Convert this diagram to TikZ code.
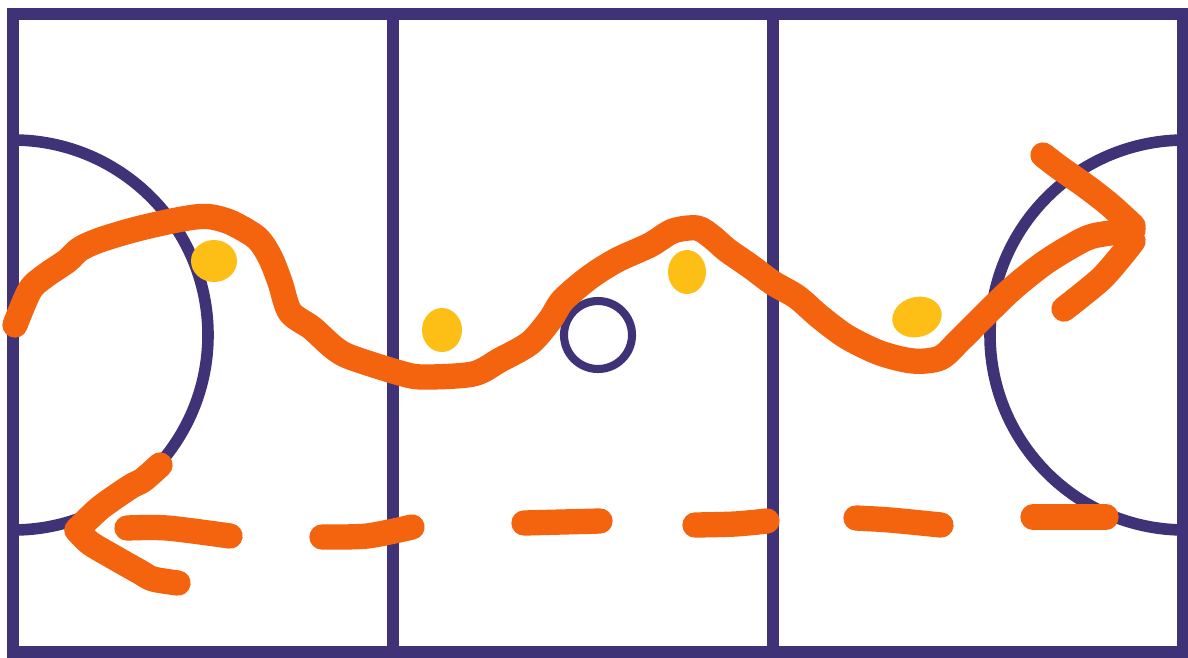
\documentclass[tikz,border=0pt]{standalone}
\definecolor{courtpurple}{HTML}{3F3277}
\definecolor{runorange}{HTML}{F4640F}
\definecolor{dotyellow}{HTML}{FDBF16}
\begin{document}
\begin{tikzpicture}[
  x=0.01cm, y=-0.01cm,
  court/.style={draw=courtpurple, line width=3.3pt},
  ring/.style={draw=courtpurple, line width=2.3pt},
  run/.style={draw=runorange, line width=7.2pt, line cap=round, line join=round},
  dot/.style={fill=dotyellow}
]
  \useasboundingbox[fill=white] (0,0) rectangle (1188,657);

  % Court lines
  \draw[court] (13,14) rectangle (1183,652);
  \draw[court] (393,14) -- (393,652);
  \draw[court] (773,14) -- (773,652);
  \draw[court] (13,140) arc[start angle=-90, end angle=90, radius=195];
  \draw[court] (1185,140) arc[start angle=-90, end angle=-270, radius=195];
  \draw[ring] (598,335) circle[radius=34];

  % Players
  \fill[dot] (214,261) ellipse[x radius=23, y radius=21];
  \fill[dot] (442,330) ellipse[x radius=20, y radius=22];
  \fill[dot] (687,272) ellipse[x radius=19, y radius=22];
  \fill[dot, rotate around={15:(917,317)}] (917,317) ellipse[x radius=25, y radius=20];

  % Run up the court
  \draw[run] plot[smooth, tension=0.5] coordinates {
    (15,325) (30,290) (45,276) (67,261) (80,249) (100,240) (133,230) (167,222)
    (195,217) (212,217) (232,223) (257,238) (270,257) (280,282) (290,312)
    (312,328) (333,347) (350,357) (400,373) (423,377) (473,374) (500,360)
    (530,343) (550,320) (563,300) (590,277) (617,260) (650,245) (673,231)
    (697,228) (712,237) (727,250) (750,266) (773,283) (797,297) (820,317)
    (847,337) (880,353) (913,361) (940,358) (960,340) (987,313) (1013,288)
    (1043,264) (1070,247) (1093,236) (1133,230)};
  \draw[run] plot[smooth, tension=0.5] coordinates {
    (1043,155) (1060,168) (1087,187) (1110,205) (1133,226)};
  \draw[run] plot[smooth, tension=0.5] coordinates {
    (1133,241) (1122,255) (1103,277) (1083,294) (1064,309)};

  % Pass back down the court
  \draw[run] plot[smooth, tension=0.5] coordinates {
    (160,465) (143,480) (130,487) (100,508) (77,530)};
  \draw[run] plot[smooth, tension=0.5] coordinates {
    (77,530) (90,543) (110,555) (140,572) (153,579) (178,583)};
  \draw[run] plot[smooth, tension=0.5] coordinates {(127,528) (167,528) (230,536)};
  \draw[run] plot[smooth, tension=0.5] coordinates {(322,537) (367,536) (412,527)};
  \draw[run] (524,523) -- (600,521);
  \draw[run] plot[smooth, tension=0.5] coordinates {(695,525) (735,524) (767,521)};
  \draw[run] plot[smooth, tension=0.5] coordinates {(856,518) (890,520) (941,525)};
  \draw[run] (1033,517) -- (1106,517);
\end{tikzpicture}
\end{document}
